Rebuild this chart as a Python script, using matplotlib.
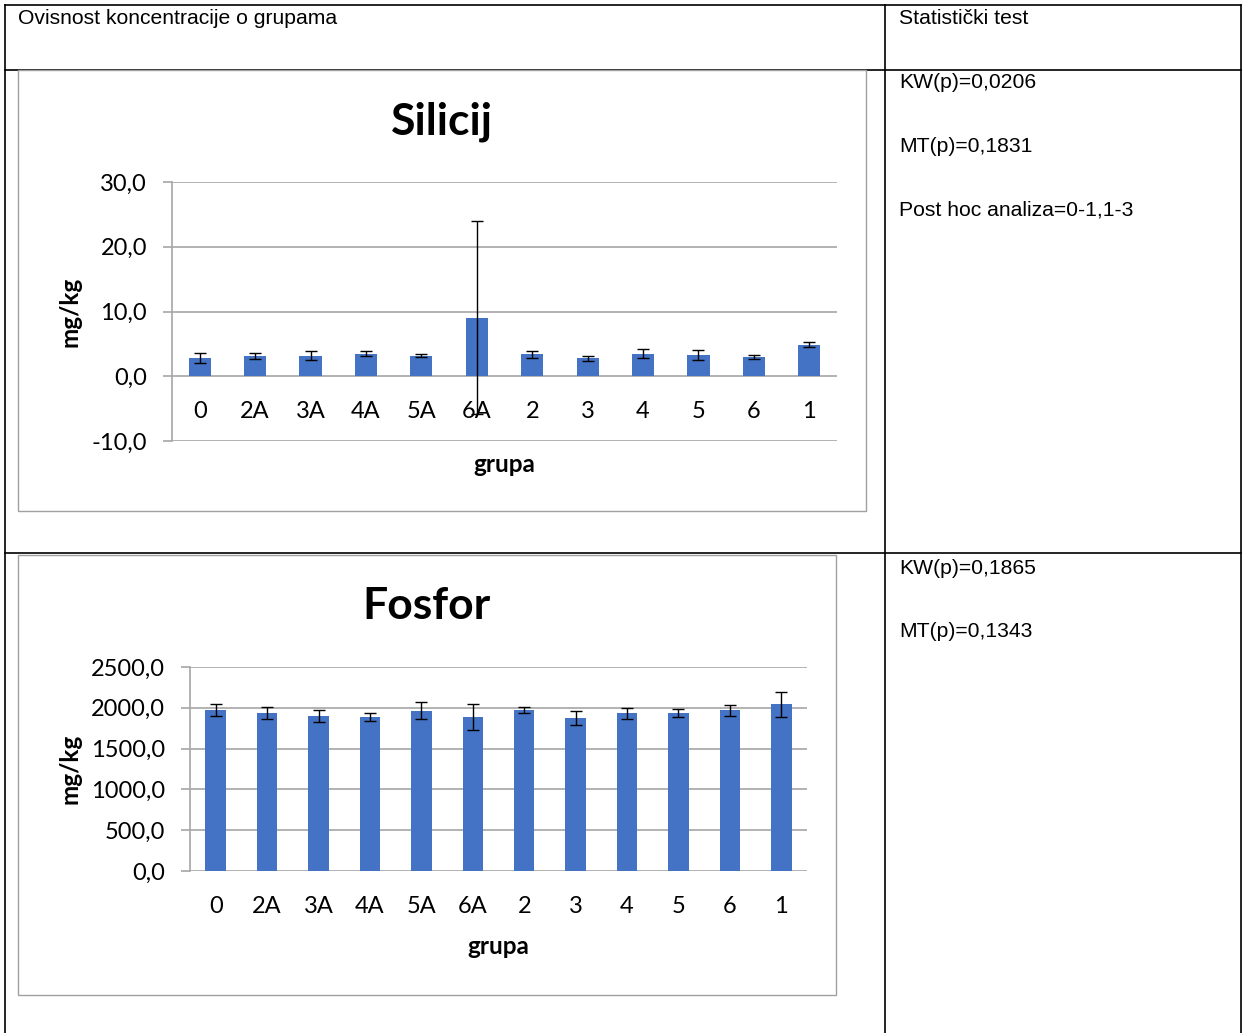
import numpy as np
import matplotlib
matplotlib.use('Agg')
import matplotlib.pyplot as plt
from matplotlib.lines import Line2D
from matplotlib.patches import Rectangle

# data
grupe = ['0', '2A', '3A', '4A', '5A', '6A', '2', '3', '4', '5', '6', '1']
silicij = [2.8, 3.1, 3.2, 3.5, 3.2, 9.0, 3.4, 2.8, 3.5, 3.3, 3.0, 4.9]
silicij_err = [0.8, 0.45, 0.65, 0.4, 0.3, 14.9, 0.55, 0.4, 0.65, 0.8, 0.3, 0.45]
silicij_ticks = [-10, 0, 10, 20, 30]
fosfor = [1972, 1935, 1898, 1886, 1963, 1886, 1972, 1874, 1935, 1931, 1967, 2041]
fosfor_err = [71, 73, 69, 45, 102, 163, 39, 89, 67, 49, 73, 150]
fosfor_ticks = [0, 500, 1000, 1500, 2000, 2500]

header_left = 'Ovisnost koncentracije o grupama'
header_right = 'Statistički test'
silicij_tests = ['KW(p)=0,0206', 'MT(p)=0,1831', 'Post hoc analiza=0-1,1-3']
fosfor_tests = ['KW(p)=0,1865', 'MT(p)=0,1343']

W, H = 1242, 1033
BAR = '#4472C4'
GRID = '#a6a6a6'
CHART_FONT = ['Lato', 'DejaVu Sans']
TABLE_FONT = ['Liberation Sans', 'DejaVu Sans']
TABLE_SIZE = 15.2


def fx(px):
    return px / W


def fy(py):
    return 1 - py / H


def hline(fig, y, x0, x1, color='black', lw=1.2):
    fig.add_artist(Line2D([fx(x0), fx(x1)], [fy(y), fy(y)], color=color, lw=lw))


def vline(fig, x, y0, y1, color='black', lw=1.2):
    fig.add_artist(Line2D([fx(x), fx(x)], [fy(y0), fy(y1)], color=color, lw=lw))


def bar_chart(fig, box, plot, title, values, errors, ticks, title_y, xlabel_y):
    bx0, by0, bx1, by1 = box
    fig.add_artist(Rectangle((fx(bx0), fy(by1)), fx(bx1) - fx(bx0), fy(by0) - fy(by1),
                             facecolor='none', edgecolor='#a0a0a0', lw=1.0, zorder=5))
    x0, y0, x1, y1 = plot
    ax = fig.add_axes([fx(x0), fy(y1), fx(x1) - fx(x0), fy(y0) - fy(y1)])
    ax.patch.set_alpha(0)
    x = np.arange(len(grupe))
    ax.bar(x, values, width=0.4, color=BAR, zorder=3)
    ax.errorbar(x, values, yerr=errors, fmt='none', ecolor='black', elinewidth=1.0,
                capsize=4, capthick=1.0, zorder=4)
    ax.set_xlim(-0.5, len(grupe) - 0.5)
    ax.set_ylim(ticks[0], ticks[-1])
    ax.set_yticks(ticks)
    ax.set_yticklabels([f'{t:.1f}'.replace('.', ',') for t in ticks],
                       family=CHART_FONT, fontsize=17)
    ax.grid(axis='y', color=GRID, lw=1.2, zorder=0)
    for s in ['top', 'right']:
        ax.spines[s].set_visible(False)
    ax.spines['left'].set_color(GRID)
    ax.spines['left'].set_linewidth(1.2)
    ax.spines['bottom'].set_position(('data', 0))
    ax.spines['bottom'].set_visible(False)
    ax.set_xticks(x)
    ax.set_xticklabels(grupe, family=CHART_FONT, fontsize=17)
    ax.tick_params(axis='x', length=0, pad=18)
    ax.tick_params(axis='y', length=6.5, color=GRID, width=1.2, pad=11.5)
    fig.text(fx((bx0 + bx1) / 2), fy(title_y), title, family=CHART_FONT, fontsize=32,
             fontweight='bold', ha='center', va='center')
    fig.text(fx((x0 + x1) / 2), fy(xlabel_y), 'grupa', family=CHART_FONT, fontsize=17.5,
             fontweight='bold', ha='center', va='center')
    fig.text(fx(70), fy((y0 + y1) / 2), 'mg/kg', family=CHART_FONT, fontsize=17.5,
             fontweight='bold', ha='center', va='center', rotation=90)
    return ax


fig = plt.figure(figsize=(W / 100, H / 100), dpi=100)

# table grid
hline(fig, 5, 5, 1241)
hline(fig, 70, 5, 1241)
hline(fig, 553, 5, 1241)
vline(fig, 5, 5, 1033)
vline(fig, 885, 5, 1033)
vline(fig, 1241, 5, 1033)

fig.text(fx(18), fy(19), header_left, family=TABLE_FONT, fontsize=TABLE_SIZE, va='center')
fig.text(fx(899), fy(19), header_right, family=TABLE_FONT, fontsize=TABLE_SIZE, va='center')

bar_chart(fig, (18, 70, 866, 511), (172, 182, 837, 441), 'Silicij',
          silicij, silicij_err, silicij_ticks, 122, 464)
bar_chart(fig, (18, 555, 836, 995), (190, 667, 807, 871), 'Fosfor',
          fosfor, fosfor_err, fosfor_ticks, 606, 947)

for i, t in enumerate(silicij_tests):
    fig.text(fx(899), fy(83 + i * 63.5), t, family=TABLE_FONT, fontsize=TABLE_SIZE, va='center')
for i, t in enumerate(fosfor_tests):
    fig.text(fx(899), fy(568 + i * 63.5), t, family=TABLE_FONT, fontsize=TABLE_SIZE, va='center')

fig.savefig('out.png', dpi=100)
